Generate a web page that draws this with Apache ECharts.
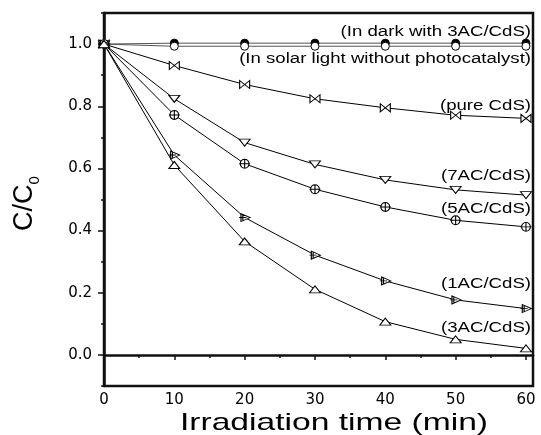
<!DOCTYPE html>
<html>
<head>
<meta charset="utf-8">
<script src="https://cdn.jsdelivr.net/npm/echarts@6/dist/echarts.min.js"></script>
<style>html,body{margin:0;padding:0;background:#fff;}#c{width:541px;height:435px;}</style>
</head>
<body>
<div id="c"></div>
<script>
const times = [0, 10, 20, 30, 40, 50, 60];
const darkWith3AC = [1.0, 1.003, 1.003, 1.003, 1.003, 1.003, 1.003];
const solarNoCatalyst = [1.0, 0.993, 0.993, 0.993, 0.993, 0.993, 0.993];
const pureCdS = [1.0, 0.931, 0.870, 0.824, 0.795, 0.771, 0.761];
const ac7CdS = [1.0, 0.824, 0.683, 0.613, 0.563, 0.531, 0.514];
const ac5CdS = [1.0, 0.772, 0.615, 0.533, 0.476, 0.433, 0.412];
const ac1CdS = [1.0, 0.643, 0.442, 0.321, 0.238, 0.177, 0.149];
const ac3CdS = [1.0, 0.611, 0.365, 0.211, 0.107, 0.050, 0.021];
const xTicks = [0, 10, 20, 30, 40, 50, 60];
const xMinorTicks = [5, 15, 25, 35, 45, 55];
const yTicks = [0.0, 0.2, 0.4, 0.6, 0.8, 1.0];
const labels = ['(In dark with 3AC/CdS)', '(In solar light without photocatalyst)', '(pure CdS)', '(7AC/CdS)', '(5AC/CdS)', '(1AC/CdS)', '(3AC/CdS)'];

const pairs = arr => times.map((t, i) => [t, arr[i]]);
const chart = echarts.init(document.getElementById('c'), null, {renderer: 'canvas'});

function line(name, arr, symbol, size, extra) {
  return Object.assign({
    name, type: 'line', data: pairs(arr), symbol, symbolSize: size,
    lineStyle: {color: '#000', width: 1},
    itemStyle: {color: '#fff', borderColor: '#000', borderWidth: 1},
    animation: false, z: 3
  }, extra || {});
}

const labelY = [32, 59, 106, 176, 209, 284, 328];
const graphics = labels.map((s, i) => ({
  type: 'text', x: 531, y: labelY[i], scaleX: 1.33,
  style: {text: s, font: '14px "Liberation Sans", Arial, sans-serif', fill: '#000', align: 'right', verticalAlign: 'middle'}
}));
graphics.push({
  type: 'text', x: 334, y: 423, scaleX: 1.4,
  style: {text: 'Irradiation time (min)', font: '24px "Liberation Sans", Arial, sans-serif', fill: '#000', align: 'center', verticalAlign: 'middle'}
});

chart.setOption({
  animation: false,
  backgroundColor: '#fff',
  grid: {left: 104, top: 13, right: 8, bottom: 49, show: true, borderColor: '#111', borderWidth: 2.5, backgroundColor: 'transparent'},
  xAxis: [{
    type: 'value', min: 0, max: 61,
    axisLine: {lineStyle: {color: '#111', width: 2.5}},
    axisTick: {customValues: xTicks, length: 5, lineStyle: {color: '#111', width: 1.5}},
    axisLabel: {customValues: xTicks, color: '#000', fontSize: 15, fontFamily: 'DejaVu Sans', margin: 7},
    splitLine: {show: false}
  }, {
    type: 'value', min: 0, max: 61, position: 'bottom',
    axisLine: {show: false},
    axisTick: {customValues: xMinorTicks, length: 3, lineStyle: {color: '#111', width: 1.5}},
    axisLabel: {show: false}, splitLine: {show: false}
  }],
  yAxis: [{
    type: 'value', min: -0.1, max: 1.1,
    name: 'C/C{sub|0}', nameLocation: 'middle', nameRotate: 90, nameGap: 62,
    nameTextStyle: {
      fontSize: 27, fontFamily: 'Liberation Sans', color: '#000', lineHeight: 34, padding: [0, 0, 0, -8],
      rich: {sub: {fontSize: 15, fontFamily: 'Liberation Sans', color: '#000', verticalAlign: 'bottom', lineHeight: 15}}
    },
    axisLine: {show: true, lineStyle: {color: '#111', width: 2.5}},
    axisTick: {show: true, customValues: yTicks, length: 6, lineStyle: {color: '#111', width: 1.5}},
    axisLabel: {customValues: yTicks, color: '#000', fontSize: 15, fontFamily: 'DejaVu Sans', margin: 12, formatter: v => v.toFixed(1)},
    splitLine: {show: false}
  }, {
    type: 'value', min: -0.1, max: 1.1, interval: 0.2, position: 'left',
    axisLine: {show: false},
    axisTick: {show: true, length: 3, lineStyle: {color: '#111', width: 1.5}},
    axisLabel: {show: false}, splitLine: {show: false}
  }],
  series: [
    line(labels[0], darkWith3AC, 'circle', 8, {itemStyle: {color: '#000', borderColor: '#000', borderWidth: 1}, lineStyle: {color: '#555', width: 1}}),
    line(labels[1], solarNoCatalyst, 'circle', 8, {lineStyle: {color: '#555', width: 1}}),
    line(labels[2], pureCdS, 'path://M0,0L10,10L10,0L0,10Z', [10, 8]),
    line(labels[3], ac7CdS, 'path://M0,0L10,0L5,8Z', [11, 7]),
    line(labels[4], ac5CdS, 'path://M1,5A4,4,0,1,1,9,5A4,4,0,1,1,1,5ZM5,1L5,9M0,5L10,5', [11, 9]),
    line(labels[5], ac1CdS, 'path://M2,0L12,4.5L2,9ZM0,4.5L8,4.5M4,1.5L4,7.5', [11, 8]),
    line(labels[6], ac3CdS, 'path://M5,0L10,8L0,8Z', [11, 7])
  ],
  graphic: graphics
});
</script>
</body>
</html>
